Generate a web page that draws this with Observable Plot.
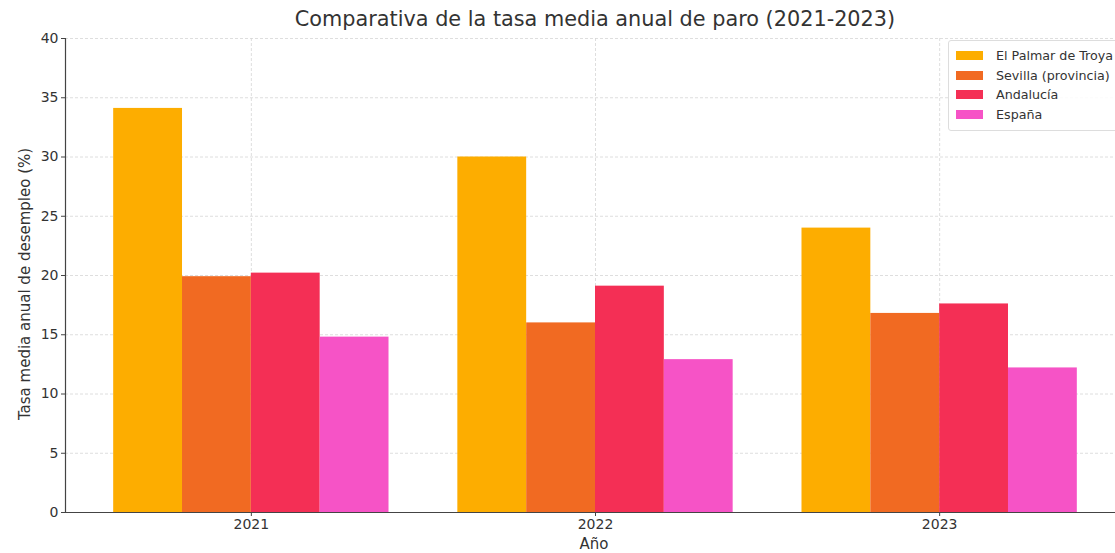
<!DOCTYPE html>
<html><head><meta charset="utf-8">
<script src="https://cdn.jsdelivr.net/npm/d3@7"></script>
<script src="https://cdn.jsdelivr.net/npm/@observablehq/plot@0.6"></script>
<style>
body{margin:0;background:#fff;font-family:"DejaVu Sans",sans-serif;}
#wrap{position:relative;width:1115px;height:553px;overflow:hidden;background:#fff;}
#title{position:absolute;left:0;width:1190px;top:7px;text-align:center;font-size:20.8px;color:#333;white-space:nowrap;}
#ylab{position:absolute;left:25px;top:284px;transform:translate(-50%,-50%) rotate(-90deg);font-size:15px;color:#333;white-space:nowrap;}
#xlab{position:absolute;left:594px;top:535px;transform:translateX(-50%);font-size:15px;color:#333;}
#legend{position:absolute;left:948px;top:40px;width:180px;height:91px;border:1px solid #ddd;border-radius:3px;background:rgba(255,255,255,0.85);font-size:12.7px;color:#333;box-sizing:border-box;padding:5px 0 0 7px;z-index:2;}
#legend .row{display:flex;align-items:center;height:19.5px;}
#legend .sw{width:27px;height:9px;margin-right:13px;}
svg{position:absolute;left:0;top:0;}
</style></head><body><div id="wrap"><div id="title"></div><div id="ylab"></div><div id="xlab"></div><div id="legend"></div></div>
<script>
const titleText = "Comparativa de la tasa media anual de paro (2021-2023)";
const yLabel = "Tasa media anual de desempleo (%)";
const xLabel = "Año";
const years = ["2021", "2022", "2023"];
const series = ["El Palmar de Troya", "Sevilla (provincia)", "Andalucía", "España"];
const palmar = [34.1, 30.0, 24.0];
const sevilla = [19.9, 16.0, 16.8];
const andalucia = [20.2, 19.1, 17.6];
const espana = [14.8, 12.9, 12.2];
const colors = ["#FDAD00", "#F16A22", "#F42F55", "#F653C6"];
const yTicks = [0, 5, 10, 15, 20, 25, 30, 35, 40];

const barWidth = 0.2;
const valuesBySeries = [palmar, sevilla, andalucia, espana];
const data = years.flatMap((yr, i) => series.map((s, j) => {
  const x1 = i + (j - series.length / 2) * barWidth;
  return {year: yr, series: s, value: valuesBySeries[j][i], x1, x2: x1 + barWidth};
}));
const yearIdx = years.map((_, i) => i);

const chart = Plot.plot({
  width: 1115, height: 553,
  marginTop: 38, marginBottom: 41, marginLeft: 65, marginRight: -10,
  style: {fontFamily: "DejaVu Sans", fontSize: "14px", color: "#333", background: "transparent", overflow: "visible"},
  x: {domain: [-0.54, 2.54], label: null},
  y: {domain: [0, 40], label: null},
  color: {domain: series, range: colors},
  marks: [
    Plot.gridY(yTicks, {stroke: "#d6d6d6", strokeOpacity: 1, strokeDasharray: "3,2", strokeWidth: 0.8}),
    Plot.gridX(yearIdx, {stroke: "#d6d6d6", strokeOpacity: 1, strokeDasharray: "3,2", strokeWidth: 0.8}),
    Plot.rectY(data, {x1: "x1", x2: "x2", y: "value", fill: "series", inset: 0}),
    Plot.axisY(yTicks, {anchor: "left", tickSize: 4, tickPadding: 3, stroke: "#444", label: null, fontSize: 14}),
    Plot.axisX(yearIdx, {anchor: "bottom", tickSize: 4, tickPadding: 3, stroke: "#444", label: null, fontSize: 14, tickFormat: i => years[i]}),
    Plot.ruleY([0], {stroke: "#444", strokeWidth: 1.2}),
    Plot.ruleX([-0.54], {stroke: "#444", strokeWidth: 1.2})
  ]
});
document.getElementById("wrap").appendChild(chart);
document.getElementById("title").textContent = titleText;
document.getElementById("ylab").textContent = yLabel;
document.getElementById("xlab").textContent = xLabel;
const leg = document.getElementById("legend");
series.forEach((s, j) => {
  const r = document.createElement("div"); r.className = "row";
  const sw = document.createElement("span"); sw.className = "sw"; sw.style.background = colors[j];
  const t = document.createElement("span"); t.textContent = s;
  r.appendChild(sw); r.appendChild(t); leg.appendChild(r);
});
</script></body></html>
